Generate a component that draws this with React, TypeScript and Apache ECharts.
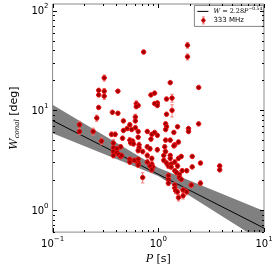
import { useEffect, useRef } from 'react';
import * as echarts from 'echarts';

const periods = [1.89,1.89,0.727,0.308,0.273,0.273,0.308,0.308,0.415,1.297,2.41,0.852,0.923,1.197,1.349,0.98,0.923,0.98,0.619,0.645,0.619,1.349,0.273,0.368,0.415,1.197,0.262,0.607,0.607,0.468,0.538,0.507,0.607,0.468,0.56,0.645,0.787,1.173,1.197,1.173,1.521,1.932,1.932,2.408,0.869,0.923,0.98,0.361,0.391,0.242,0.1795,0.1795,0.459,0.645,0.29,0.538,0.572,0.549,0.583,0.658,0.658,0.645,0.787,1.173,1.15,1.297,1.432,1.404,1.552,0.835,0.98,0.712,0.787,0.376,0.376,0.376,0.376,0.407,0.407,0.424,0.441,0.441,0.45,0.538,0.538,0.595,0.645,0.645,0.645,0.787,0.869,0.869,0.887,0.835,0.869,1.127,1.127,1.173,1.297,1.297,1.197,1.246,1.323,1.323,1.552,1.648,1.432,1.521,1.681,1.857,2.094,2.505,2.094,3.81,3.81,1.432,1.491,1.583,1.246,1.246,1.246,1.583,1.648,2.052,1.432,1.432,1.462,1.521,1.552,1.715,1.715,1.857,2.505,0.712,0.852,1.404];
const widths = [45.1,34.5,38.6,21.2,15.9,14.3,15.6,13.9,15.6,19.0,17.0,14.3,14.9,13.0,13.3,11.9,11.7,11.2,11.7,11.2,10.9,10.0,10.7,9.57,9.36,9.15,8.38,8.57,7.84,7.84,7.17,6.57,6.71,6.28,6.42,6.14,6.14,7.33,6.86,6.42,6.86,6.57,6.14,7.33,5.75,6.01,5.62,5.75,5.75,6.14,7.17,6.14,5.26,5.38,4.92,5.03,4.92,4.71,4.61,4.51,4.22,3.95,4.31,5.03,4.31,5.03,4.51,4.41,4.81,4.12,4.03,3.86,3.53,4.71,4.22,3.86,3.53,4.12,3.78,3.61,3.45,4.31,3.53,3.23,3.03,3.16,3.23,2.96,2.83,3.03,3.30,2.89,2.71,2.77,2.53,3.53,3.16,3.86,3.53,3.30,2.96,2.77,2.89,2.71,3.30,3.45,3.03,2.77,2.48,2.48,2.71,2.96,3.45,2.77,2.53,2.48,2.37,2.27,2.22,2.03,1.86,2.12,2.03,1.78,1.78,1.66,1.56,1.52,1.33,1.59,1.39,1.52,1.86,2.12,5.15,6.01];
const errors = [3.0,2.4,0.8,1.5,0.5,0.5,1.0,1.0,0.4,0.5,0.4,0.4,0.4,0.4,1.2,0.4,0.4,0.4,0.8,0.3,0.3,1.4,0.3,0.3,0.3,0.3,0.6,0.6,0.3,0.2,0.3,0.2,0.3,0.2,0.2,0.2,0.2,0.3,0.2,0.2,0.2,0.2,0.2,0.2,0.2,0.2,0.2,0.3,0.3,0.5,0.6,0.4,0.2,0.2,0.4,0.3,0.2,0.2,0.2,0.3,0.2,0.2,0.2,0.2,0.2,0.2,0.2,0.2,0.2,0.2,0.2,0.2,0.2,0.4,0.2,0.2,0.2,0.2,0.2,0.15,0.15,0.2,0.15,0.15,0.15,0.15,0.15,0.15,0.15,0.15,0.15,0.15,0.15,0.15,0.15,0.4,0.15,0.15,0.15,0.15,0.15,0.15,0.15,0.15,0.15,0.15,0.15,0.15,0.1,0.1,0.1,0.1,0.1,0.1,0.1,0.1,0.1,0.1,0.1,0.1,0.1,0.1,0.1,0.1,0.1,0.1,0.1,0.1,0.1,0.1,0.1,0.1,0.1,0.25,0.2,0.2];

const fitP = [0.1, 10];
const fitW = [7.91, 0.658];
const bandP = [0.1, 1, 10];
const bandUpper = [11.4, 2.65, 0.98];
const bandLower = [5.9, 2.2, 0.47];

const xRange = [0.1, 10];
const yRange = [0.6, 117];
const xMajorTicks = [0.1, 1, 10];
const xMinorTicks = [0.2, 0.3, 0.4, 0.5, 0.6, 0.7, 0.8, 0.9, 2, 3, 4, 5, 6, 7, 8, 9];
const yMajorTicks = [1, 10, 100];
const yMinorTicks = [0.6, 0.7, 0.8, 0.9, 2, 3, 4, 5, 6, 7, 8, 9, 20, 30, 40, 50, 60, 70, 80, 90];

const legendFit = '{i|W} = 2.28{i|P}{s|−0.54}';
const legendObs = '333 MHz';

const SANS = 'DejaVu Sans';
const SERIF = 'DejaVu Serif';
const MARK_FILL = '#a00000';
const MARK_EDGE = '#f01010';
const ERR_COLOR = '#f07070';

function powLabel(v: number) {
  const e = Math.round(Math.log10(v));
  if (Math.abs(v - Math.pow(10, e)) / v > 1e-6) return '';
  const es = e < 0 ? '−' + Math.abs(e) : String(e);
  return '{b|10}{s|' + es + '}';
}

const labelRich = {
  b: { fontSize: 10, fontFamily: SANS, color: '#000', lineHeight: 16 },
  s: { fontSize: 7, fontFamily: SANS, color: '#000', lineHeight: 7, verticalAlign: 'top' },
};

export default function App() {
  const ref = useRef<HTMLDivElement>(null);
  useEffect(() => {
    if (!ref.current) return;
    const chart = echarts.init(ref.current, null, { renderer: 'svg' });

    const scatterData = periods.map((p, i) => [p, widths[i]]);
    const errData = periods.map((p, i) => [p, widths[i] - errors[i], widths[i] + errors[i]]);
    const bandData = bandP.map((p, i) => [p, bandLower[i], bandUpper[i]]);

    const option: any = {
      animation: false,
      grid: { left: 33, right: 12, top: 4, bottom: 27, show: true, borderColor: '#8a8a8a', borderWidth: 1, backgroundColor: 'transparent' },
      xAxis: {
        type: 'log', logBase: 10, min: xRange[0], max: xRange[1],
        name: '{i|P} [s]', nameLocation: 'middle', nameGap: 12,
        nameTextStyle: { rich: { i: { fontFamily: SERIF, fontStyle: 'italic', fontSize: 11, color: '#000' } }, fontFamily: SANS, fontSize: 11, color: '#000' },
        axisLine: { show: false }, axisTick: { show: false }, splitLine: { show: false }, minorTick: { show: false },
        axisLabel: { formatter: powLabel, rich: labelRich, margin: 3, showMinLabel: true, showMaxLabel: true },
      },
      yAxis: {
        type: 'log', logBase: 10, min: yRange[0], max: yRange[1],
        name: '{i|W}{sub|conal} [deg]', nameLocation: 'middle', nameGap: 16, nameRotate: 90,
        nameTextStyle: { rich: { i: { fontFamily: SERIF, fontStyle: 'italic', fontSize: 11, color: '#000', lineHeight: 14 }, sub: { fontFamily: SERIF, fontStyle: 'italic', fontSize: 7, color: '#000', verticalAlign: 'bottom', lineHeight: 9 } }, fontFamily: SANS, fontSize: 11, color: '#000' },
        axisLine: { show: false }, axisTick: { show: false }, splitLine: { show: false }, minorTick: { show: false },
        axisLabel: { formatter: powLabel, rich: labelRich, margin: 4 },
      },
      series: [
        {
          type: 'custom', name: 'band', z: 1, clip: true,
          encode: { x: 0, y: [1, 2] },
          data: bandData,
          renderItem: (params: any, api: any) => {
            if (params.dataIndex !== 0) return null;
            const pts: number[][] = [];
            bandP.forEach((p, i) => pts.push(api.coord([p, bandUpper[i]])));
            for (let i = bandP.length - 1; i >= 0; i--) pts.push(api.coord([bandP[i], bandLower[i]]));
            return { type: 'polygon', shape: { points: pts }, style: { fill: '#808080', stroke: 'none' } };
          },
        },
        {
          type: 'line', name: 'fit', z: 2, data: fitP.map((p, i) => [p, fitW[i]]),
          showSymbol: false, symbol: 'none', lineStyle: { color: '#000', width: 1 },
        },
        {
          type: 'custom', name: 'err', z: 3, clip: true,
          encode: { x: 0, y: [1, 2] },
          data: errData,
          renderItem: (params: any, api: any) => {
            const lo = api.coord([api.value(0), api.value(1)]);
            const hi = api.coord([api.value(0), api.value(2)]);
            const st = { stroke: ERR_COLOR, lineWidth: 0.9 };
            return {
              type: 'group', children: [
                { type: 'line', shape: { x1: lo[0], y1: lo[1], x2: hi[0], y2: hi[1] }, style: st },
                { type: 'line', shape: { x1: lo[0] - 1.7, y1: lo[1], x2: lo[0] + 1.7, y2: lo[1] }, style: st },
                { type: 'line', shape: { x1: hi[0] - 1.7, y1: hi[1], x2: hi[0] + 1.7, y2: hi[1] }, style: st },
              ],
            };
          },
        },
        {
          type: 'scatter', name: '333 MHz', z: 4, data: scatterData, symbol: 'circle', symbolSize: 4.5,
          itemStyle: { color: MARK_FILL, borderColor: MARK_EDGE, borderWidth: 1, opacity: 1 },
        },
      ],
    };
    chart.setOption(option);

    const toPx = (x: number, y: number) => chart.convertToPixel({ gridIndex: 0 }, [x, y]) as number[];
    const bl = toPx(xRange[0], yRange[0]);
    const tr = toPx(xRange[1], yRange[1]);
    const L = Math.round(bl[0]), B = Math.round(bl[1]), R = Math.round(tr[0]), T = Math.round(tr[1]);
    const tickStyle = { stroke: '#000', lineWidth: 1 };
    const tickEls: any[] = [];
    const addX = (v: number, len: number) => {
      const x = Math.round(toPx(v, 1)[0]) + 0.5;
      tickEls.push({ type: 'line', shape: { x1: x, y1: B, x2: x, y2: B - len }, style: tickStyle });
      tickEls.push({ type: 'line', shape: { x1: x, y1: T, x2: x, y2: T + len }, style: tickStyle });
    };
    const addY = (v: number, len: number) => {
      const y = Math.round(toPx(1, v)[1]) + 0.5;
      tickEls.push({ type: 'line', shape: { x1: L, y1: y, x2: L + len, y2: y }, style: tickStyle });
      tickEls.push({ type: 'line', shape: { x1: R, y1: y, x2: R - len, y2: y }, style: tickStyle });
    };
    xMajorTicks.forEach((v) => addX(v, 4));
    xMinorTicks.forEach((v) => addX(v, 2));
    yMajorTicks.forEach((v) => addY(v, 4));
    yMinorTicks.forEach((v) => addY(v, 2));

    const legend = {
      type: 'group', left: 194, top: 5,
      children: [
        { type: 'rect', shape: { x: 0, y: 0, width: 69, height: 21 }, style: { fill: '#fff', stroke: '#666', lineWidth: 0.8 } },
        { type: 'line', shape: { x1: 3, y1: 6, x2: 14, y2: 6 }, style: { stroke: '#000', lineWidth: 1 } },
        { type: 'line', shape: { x1: 9, y1: 11.5, x2: 9, y2: 18.5 }, style: { stroke: ERR_COLOR, lineWidth: 0.9 } },
        { type: 'line', shape: { x1: 7.5, y1: 11.5, x2: 10.5, y2: 11.5 }, style: { stroke: ERR_COLOR, lineWidth: 0.9 } },
        { type: 'line', shape: { x1: 7.5, y1: 18.5, x2: 10.5, y2: 18.5 }, style: { stroke: ERR_COLOR, lineWidth: 0.9 } },
        { type: 'circle', shape: { cx: 9, cy: 15, r: 1.8 }, style: { fill: MARK_FILL, stroke: MARK_EDGE, lineWidth: 1 } },
        {
          type: 'text', x: 19, y: 6,
          style: {
            text: legendFit, verticalAlign: 'middle', fill: '#000', fontSize: 6.5, fontFamily: SERIF,
            rich: {
              i: { fontFamily: SERIF, fontStyle: 'italic', fontSize: 6.5, lineHeight: 10 },
              s: { fontFamily: SERIF, fontSize: 4.5, lineHeight: 5, verticalAlign: 'top' },
            },
          },
        },
        { type: 'text', x: 19, y: 15, style: { text: legendObs, verticalAlign: 'middle', fill: '#000', fontSize: 7, fontFamily: SANS } },
      ],
    };

    const graphics: any[] = tickEls.map((el) => ({ ...el, z: 50 }));
    graphics.push({ ...legend, z: 100 });
    chart.setOption({ graphic: graphics });
    return () => chart.dispose();
  }, []);
  return <div ref={ref} style={{ position: 'fixed', left: 0, top: 0, width: 276, height: 269 }} />;
}
